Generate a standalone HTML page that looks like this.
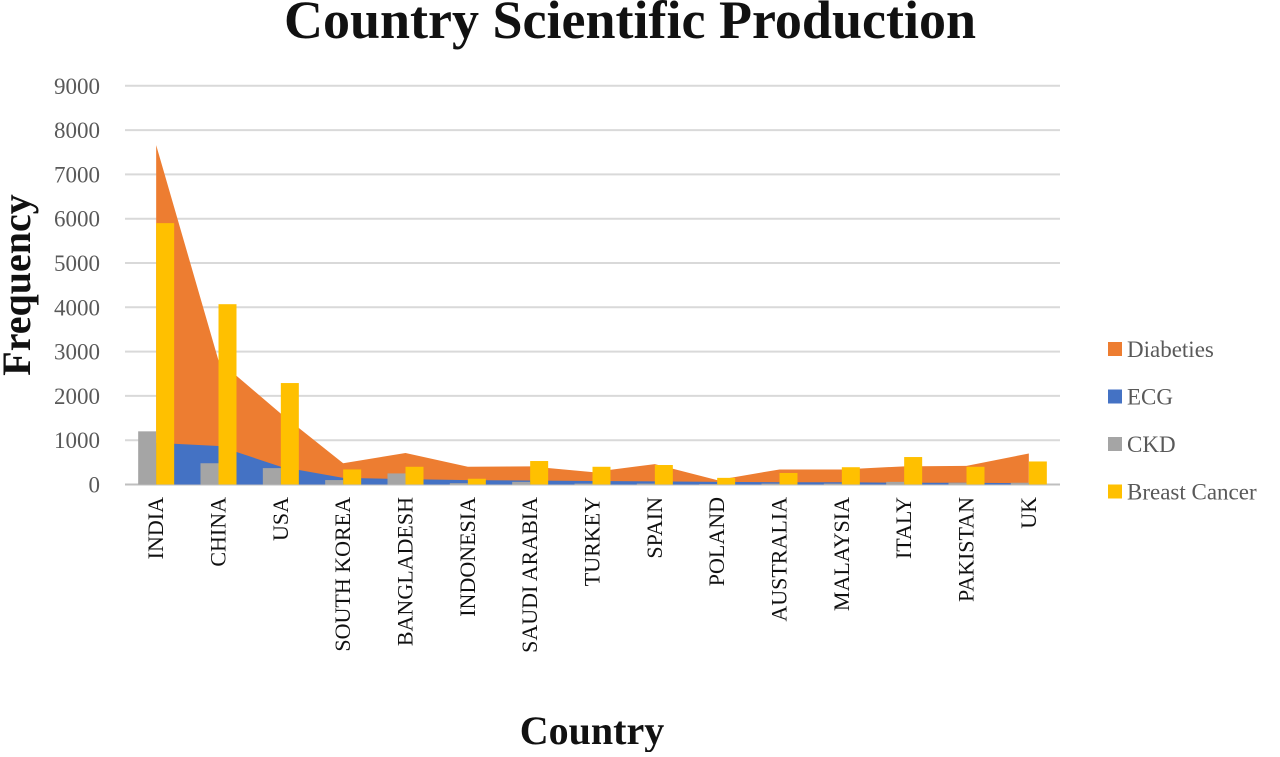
<!DOCTYPE html>
<html><head><meta charset="utf-8"><style>
body{margin:0;background:#fff;width:1280px;height:752px;overflow:hidden}
svg text{font-family:"Liberation Serif",serif}
</style></head><body>
<svg width="1280" height="752" id="c">
<text x="630" y="38" text-anchor="middle" font-size="54" font-weight="bold" fill="#111">Country Scientific Production</text>
<text transform="translate(30,285) rotate(-90)" text-anchor="middle" font-size="40" font-weight="bold" fill="#111">Frequency</text>
<text x="592" y="744" text-anchor="middle" font-size="40" font-weight="bold" fill="#111">Country</text>
<g id="grid"></g><g id="areas"></g><g id="bars"></g><g id="labels"></g><g id="legend"></g>
</svg>
<script>
const categories=["INDIA","CHINA","USA","SOUTH KOREA","BANGLADESH","INDONESIA","SAUDI ARABIA","TURKEY","SPAIN","POLAND","AUSTRALIA","MALAYSIA","ITALY","PAKISTAN","UK"];
const diabetes=[7660,2800,1600,480,710,400,410,280,460,100,340,340,410,420,700];
const ecg=[940,870,400,150,120,100,90,80,70,60,50,50,40,40,30];
const ckd=[1200,480,370,100,250,30,60,20,20,10,20,20,60,40,40];
const breast=[5900,4070,2290,340,400,130,530,400,440,150,260,390,620,400,520];
const yTicks=[0,1000,2000,3000,4000,5000,6000,7000,8000,9000];
const seriesNames=["Diabeties","ECG","CKD","Breast Cancer"];
const colors=["#ED7D31","#4472C4","#A5A5A5","#FFC000"];
const NS="http://www.w3.org/2000/svg";
const x0=125,x1=1060,y0=484.5,pxPer=44.3/1000;
const bw=(x1-x0)/categories.length;
const y=v=>y0-v*pxPer;
const xc=i=>x0+bw*(i+0.5);
function mk(t,a,p){const e=document.createElementNS(NS,t);for(const k in a)e.setAttribute(k,a[k]);p.appendChild(e);return e;}
const G=document.getElementById('grid');
yTicks.forEach(v=>{
 const l=mk('line',{x1:x0,x2:x1,y1:y(v),y2:y(v),stroke:v?'#d9d9d9':'#bfbfbf','stroke-width':2},G);
 
 
 const t=mk('text',{x:100,y:y(v)+8,'text-anchor':'end','font-size':23,fill:'#595959'},G);t.textContent=v;
 
 
});
const A=document.getElementById('areas');
[diabetes,ecg].forEach((s,k)=>{
 let d='M'+xc(0)+','+y0;
 s.forEach((v,i)=>d+=' L'+xc(i)+','+y(v));
 d+=' L'+xc(s.length-1)+','+y0+'Z';
 const p=mk('path',{d:d,fill:colors[k]},A);
 
 
});
const B=document.getElementById('bars');
const w=18;
categories.forEach((c,i)=>{
 const r1=mk('rect',{x:xc(i)-w,y:y(ckd[i]),width:w,height:ckd[i]*pxPer,fill:colors[2]},B);
 
 
 const r2=mk('rect',{x:xc(i),y:y(breast[i]),width:w,height:breast[i]*pxPer,fill:colors[3]},B);
 
 
 const L=document.getElementById('labels');
 const t=mk('text',{transform:'translate('+(xc(i)+7)+',497) rotate(-90)','text-anchor':'end','font-size':22,fill:'#111'},L);
 t.textContent=c;
 
 
});
const LG=document.getElementById('legend');
seriesNames.forEach((n,i)=>{
 const yy=350+i*47.5;
 const g=mk('g',{},LG);
 
 
 mk('rect',{x:1108,y:yy-8,width:14,height:14,fill:colors[i]},g);
 const t=mk('text',{x:1127,y:yy+7,'font-size':23,fill:'#595959'},g);t.textContent=n;
});
</script>
</body></html>
